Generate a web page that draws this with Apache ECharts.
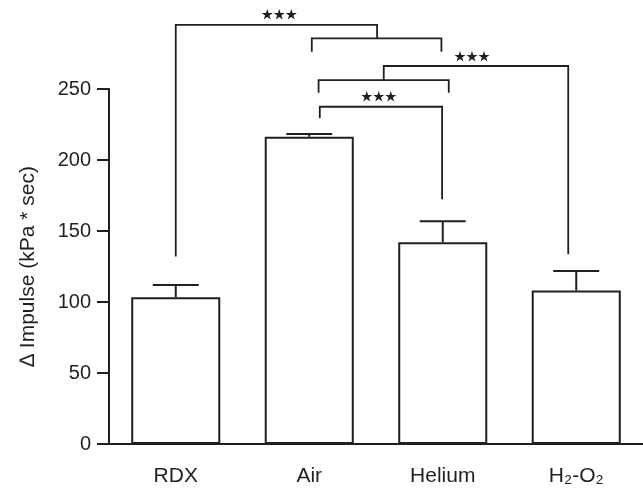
<!DOCTYPE html>
<html>
<head>
<meta charset="utf-8">
<script src="https://cdn.jsdelivr.net/npm/echarts@6/dist/echarts.min.js"></script>
<style>
  html, body { margin: 0; padding: 0; background: #fff; }
  #chart { width: 643px; height: 493px; }
</style>
</head>
<body>
<div id="chart"></div>
<script>
// bar data
const categories = ['RDX', 'Air', 'Helium', 'H₂-O₂'];
const means = [103.4, 216.4, 142.1, 108.1];
const upperErr = [111.9, 218.3, 156.9, 121.9];

// significance brackets, x in category units (bar centre = index)
// [xLeft, xRight, yTop, leftLegBottom, rightLegBottom]
const brackets = [
  [0.0, 1.508, 295.1, 132.0, 285.7],
  [1.019, 1.99, 285.7, 276.3, 276.3],
  [1.558, 2.94, 266.2, 256.3, 133.7],
  [1.07, 2.045, 256.3, 247.4, 247.4],
  [1.079, 1.995, 237.5, 229.4, 172.4]
];
// star labels [x, y]
const stars = [[0.775, 302.5], [2.219, 273.2], [1.521, 244.6]];

const INK = '#231f20';
const FONT = "'Liberation Sans', Arial, Helvetica, sans-serif";

const chart = echarts.init(document.getElementById('chart'));

const option = {
  animation: false,
  grid: { left: 109, right: 0, top: 89, bottom: 49, containLabel: false },
  xAxis: [
    {
      type: 'category',
      data: categories,
      axisLine: { onZero: false, lineStyle: { color: INK, width: 2 } },
      axisTick: { alignWithLabel: true, length: 10, lineStyle: { color: INK, width: 2 } },
      axisLabel: { color: INK, fontSize: 21, fontFamily: FONT, margin: 22 },
      splitLine: { show: false }
    },
    { type: 'value', min: -0.5, max: 3.5, show: false }
  ],
  yAxis: {
    type: 'value',
    min: 0, max: 250, interval: 50,
    name: '∆ Impulse (kPa * sec)',
    nameLocation: 'middle',
    nameGap: 70,
    nameTextStyle: { color: INK, fontSize: 21, fontFamily: FONT },
    axisLine: { show: true, onZero: false, lineStyle: { color: INK, width: 2 } },
    axisTick: { show: true, length: 12, lineStyle: { color: INK, width: 2 } },
    axisLabel: { color: INK, fontSize: 20, fontFamily: FONT, margin: 18 },
    splitLine: { show: false }
  },
  series: [
    {
      type: 'bar',
      data: means,
      barWidth: '66.7%',
      itemStyle: { color: '#fff', borderColor: INK, borderWidth: 2 },
      z: 2
    },
    {
      // error bars (upper only)
      type: 'custom',
      data: means.map((m, i) => [i, m, upperErr[i]]),
      renderItem: (params, api) => {
        const base = api.coord([api.value(0), api.value(1)]);
        const top = api.coord([api.value(0), api.value(2)]);
        const half = api.size([1, 0])[0] * 0.172;
        return {
          type: 'group',
          children: [
            { type: 'line', shape: { x1: base[0], y1: base[1], x2: top[0], y2: top[1] },
              style: { stroke: INK, lineWidth: 2 } },
            { type: 'line', shape: { x1: top[0] - half, y1: top[1], x2: top[0] + half, y2: top[1] },
              style: { stroke: INK, lineWidth: 2 } }
          ]
        };
      },
      z: 3
    },
    {
      type: 'custom',
      xAxisIndex: 1,
      data: brackets,
      renderItem: (params, api) => {
        const tl = api.coord([api.value(0), api.value(2)]);
        const tr = api.coord([api.value(1), api.value(2)]);
        const bl = api.coord([api.value(0), api.value(3)]);
        const br = api.coord([api.value(1), api.value(4)]);
        return {
          type: 'polyline',
          shape: { points: [bl, tl, tr, br] },
          style: { stroke: INK, lineWidth: 1.8, fill: null }
        };
      },
      z: 4
    },
    {
      type: 'custom',
      xAxisIndex: 1,
      data: stars,
      renderItem: (params, api) => {
        const p = api.coord([api.value(0), api.value(1)]);
        return {
          type: 'text',
          style: {
            text: '★★★', x: p[0], y: p[1],
            align: 'center', verticalAlign: 'middle',
            fill: INK, fontSize: 12, fontFamily: "'Noto Sans CJK SC', 'DejaVu Sans', sans-serif"
          }
        };
      },
      z: 4
    }
  ]
};

chart.setOption(option);
</script>
</body>
</html>
